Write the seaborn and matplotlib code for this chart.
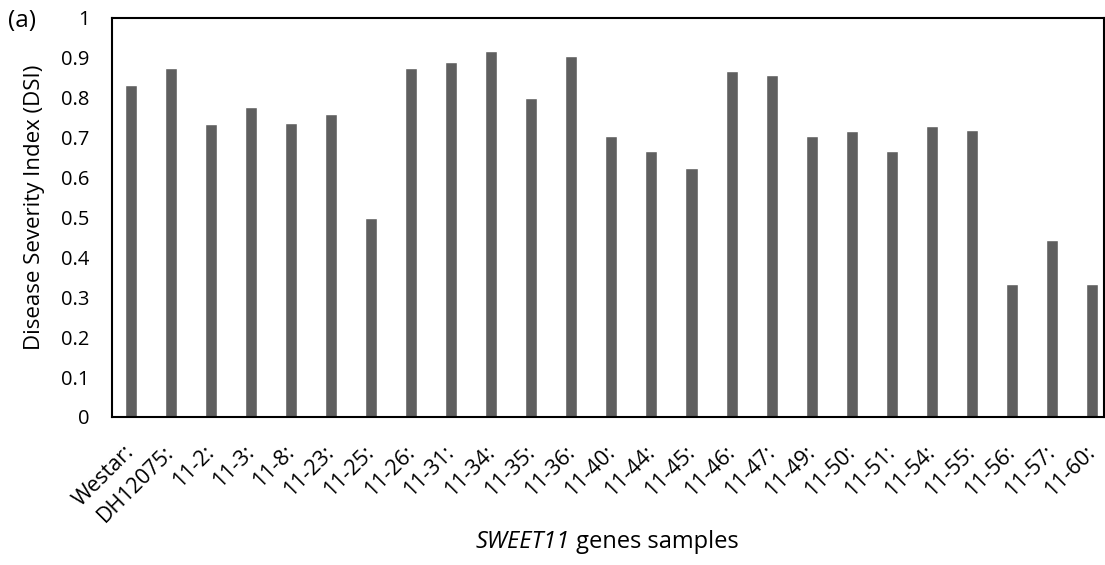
import matplotlib
matplotlib.use("Agg")
import matplotlib.pyplot as plt
import matplotlib.transforms as mtransforms
import seaborn as sns
import pandas as pd

samples = ["Westar:", "DH12075:", "11-2:", "11-3:", "11-8:", "11-23:", "11-25:", "11-26:",
           "11-31:", "11-34:", "11-35:", "11-36:", "11-40:", "11-44:", "11-45:", "11-46:",
           "11-47:", "11-49:", "11-50:", "11-51:", "11-54:", "11-55:", "11-56:", "11-57:", "11-60:"]
dsi = [0.832, 0.874, 0.733, 0.776, 0.736, 0.758, 0.499, 0.874,
       0.889, 0.915, 0.798, 0.904, 0.703, 0.666, 0.624, 0.866,
       0.856, 0.703, 0.717, 0.666, 0.728, 0.718, 0.332, 0.443, 0.332]
yticks = [0, 0.1, 0.2, 0.3, 0.4, 0.5, 0.6, 0.7, 0.8, 0.9, 1]
ytick_labels = ["0", "0.1", "0.2", "0.3", "0.4", "0.5", "0.6", "0.7", "0.8", "0.9", "1"]

sns.set_theme(style="white")
plt.rcParams['font.family'] = ['Open Sans', 'DejaVu Sans']

df = pd.DataFrame({"sample": samples, "dsi": dsi})

W, H = 1105, 565
fig = plt.figure(figsize=(W / 100, H / 100), dpi=100)
ax = fig.add_axes([112 / W, 1 - 417 / H, (1104 - 112) / W, (417 - 17.5) / H])
sns.barplot(data=df, x="sample", y="dsi", order=samples, color="#5f5f5f",
            saturation=1, width=0.3, ax=ax)
ax.set_xlim(-0.47, 24.3)
ax.set_ylim(0, 1)
ax.set_yticks(yticks)
ax.set_yticklabels(ytick_labels, fontsize=14.5, color='black')
ax.tick_params(axis='y', length=0, pad=16)
ax.tick_params(axis='x', length=0, pad=26)
ax.set_xticks(range(len(samples)))
ax.set_xticklabels(samples, rotation=45, ha='right', va='baseline', rotation_mode='anchor',
                   fontsize=15.5, color='black')
shift = mtransforms.ScaledTranslation(4 / 100, 0, fig.dpi_scale_trans)
for lab in ax.get_xticklabels():
    lab.set_transform(lab.get_transform() + shift)
for s in ax.spines.values():
    s.set_visible(True)
    s.set_color('black')
    s.set_linewidth(1.5)
ax.set_xlabel("")
ax.set_ylabel("")
fig.text(35 / W, 1 - 207 / H, "Disease Severity Index (DSI)", fontsize=16, rotation=90,
         ha='center', va='center', color='black')
fig.text(8 / W, 1 - 21 / H, "(a)", fontsize=17.5, ha='left', va='center', color='black')

ylab = 1 - 542 / H
t1 = fig.text(0, ylab, "SWEET11", fontsize=17, style='italic', va='center', color='black')
t2 = fig.text(0, ylab, " genes samples", fontsize=17, va='center', color='black')
fig.canvas.draw()
r = fig.canvas.get_renderer()
w1 = t1.get_window_extent(r).width
w2 = t2.get_window_extent(r).width
x0 = 607 - (w1 + w2) / 2
t1.set_x(x0 / W)
t2.set_x((x0 + w1) / W)

fig.savefig("out.png", dpi=100)
